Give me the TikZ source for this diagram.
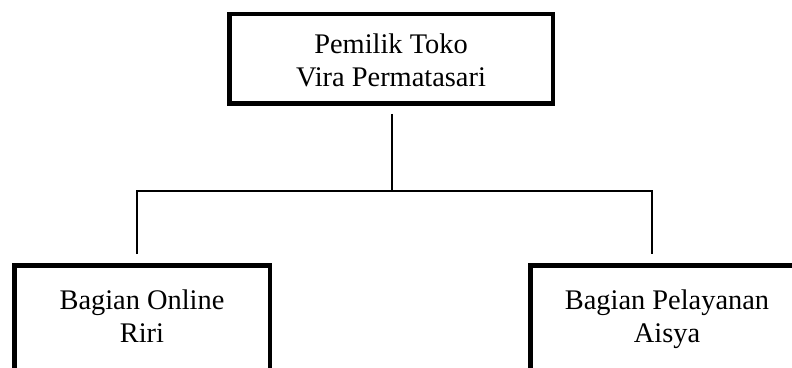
\documentclass[tikz,border=0pt]{standalone}
\usepackage{fontspec}
\setmainfont{Liberation Serif}
\usetikzlibrary{positioning}

\begin{document}
\begin{tikzpicture}[x=1pt, y=1pt,
        unit/.style={draw, line width=4.5pt, inner sep=0pt},
        caption/.style={align=center, inner sep=0pt, font=\fontsize{28.4}{33}\selectfont},
        link/.style={line width=2pt}]
        \path[use as bounding box, clip] (0,0) rectangle (792,367);

        \node[unit, minimum width=323.5pt, minimum height=89.5pt] (owner) at (391,308) {};
        \node[unit, minimum width=255.5pt, minimum height=134pt] (online) at (142,34.75) {};
        \node[unit, minimum width=273.5pt, minimum height=134pt] (service) at (667,34.75) {};

        \node[caption, below=21.4pt of owner.north] (ownertext) {Pemilik Toko\\Vira Permatasari};
        \node[caption, below=26.2pt of online.north] (onlinetext) {Bagian Online\\Riri};
        \node[caption, below=26.6pt of service.north] (servicetext) {Bagian Pelayanan\\Aisya};

        \coordinate (split) at (392,176);
        \coordinate (leftdrop) at (137,176);
        \coordinate (rightdrop) at (652,176);

        \draw[link, shorten <=8pt] (owner.south -| split) -- (split);
        \draw[link, shorten <=9pt, shorten >=9pt] (online.north -| leftdrop) -- (leftdrop) -- (rightdrop) -- (service.north -| rightdrop);
\end{tikzpicture}
\end{document}
